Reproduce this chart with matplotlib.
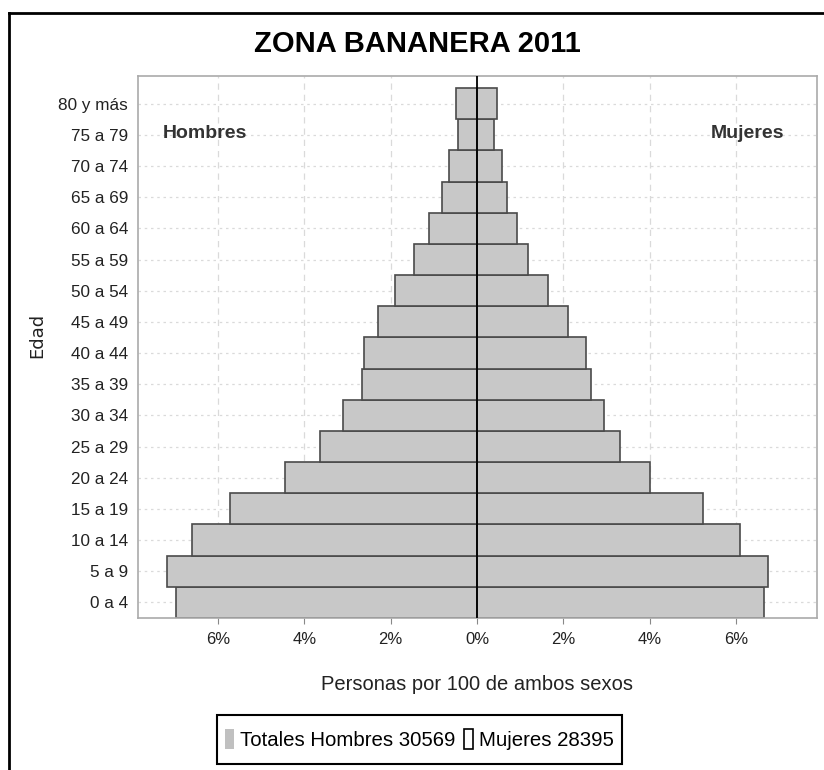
import matplotlib
matplotlib.use("Agg")
import matplotlib.pyplot as plt
from matplotlib.patches import Patch, Rectangle
from matplotlib.lines import Line2D
from matplotlib.legend_handler import HandlerPatch
from matplotlib.ticker import FuncFormatter

# Datos: porcentaje de personas por 100 de ambos sexos
edades = ["0 a 4", "5 a 9", "10 a 14", "15 a 19", "20 a 24", "25 a 29", "30 a 34",
          "35 a 39", "40 a 44", "45 a 49", "50 a 54", "55 a 59", "60 a 64",
          "65 a 69", "70 a 74", "75 a 79", "80 y más"]
hombres = [6.98, 7.17, 6.60, 5.72, 4.44, 3.63, 3.11, 2.66, 2.62, 2.29, 1.91,
           1.46, 1.12, 0.82, 0.64, 0.45, 0.49]
mujeres = [6.66, 6.74, 6.10, 5.24, 4.00, 3.32, 2.95, 2.64, 2.53, 2.12, 1.64,
           1.18, 0.92, 0.69, 0.58, 0.39, 0.47]
xticks = [-6, -4, -2, 0, 2, 4, 6]
total_hombres = 30569
total_mujeres = 28395

plt.rcParams['font.family'] = ['Liberation Sans', 'DejaVu Sans']

fig = plt.figure(figsize=(8.24, 7.7), dpi=100)
ax = fig.add_axes([0.1671, 0.1974, 0.8240, 0.7035])

y = list(range(len(edades)))
ax.barh(y, [-v for v in hombres], height=1.0, color='#c8c8c8',
        edgecolor='#4a4a4a', linewidth=1.2, zorder=2)
ax.barh(y, mujeres, height=1.0, color='#c8c8c8',
        edgecolor='#4a4a4a', linewidth=1.2, zorder=2)
ax.axvline(0, color='black', linewidth=1.3, zorder=3)

ax.set_xlim(-7.86, 7.87)
ax.set_ylim(-0.5, 16.88)
ax.set_yticks(y)
ax.set_yticklabels(edades, fontsize=12.3, color='#222222')
ax.set_xticks(xticks)
ax.xaxis.set_major_formatter(FuncFormatter(lambda v, p: f"{abs(v):.0f}%"))
ax.tick_params(axis='x', labelsize=12, colors='#222222', length=4, color='#888888', pad=6)
ax.tick_params(axis='y', length=0, pad=7)

ax.grid(axis='x', color='#dadada', linestyle=(0, (5, 4)), linewidth=0.9, zorder=0)
ax.grid(axis='y', color='#dadada', linestyle=(0, (2, 3)), linewidth=0.9, zorder=0)
ax.set_axisbelow(True)
for s in ax.spines.values():
    s.set_color('#aaaaaa')
    s.set_linewidth(1.2)

ax.set_xlabel("Personas por 100 de ambos sexos", fontsize=14.5, color='#222222', labelpad=20)

ax.text(0.037, 0.895, "Hombres", transform=ax.transAxes, ha='left', va='center',
        fontsize=14, fontweight='bold', color='#333333')
ax.text(0.952, 0.895, "Mujeres", transform=ax.transAxes, ha='right', va='center',
        fontsize=14, fontweight='bold', color='#333333')

fig.text(0.506, 0.943, "ZONA BANANERA 2011", ha='center', va='center',
         fontsize=21, fontweight='bold', color='black')
fig.text(0.045, 0.565, "Edad", rotation=90, ha='center', va='center',
         fontsize=13, color='#222222', family=['DejaVu Sans'])


def small_rect(legend, orig_handle, xdescent, ydescent, width, height, fontsize):
    # patch mas bajo que la caja de la leyenda
    return Rectangle((-xdescent, -ydescent + height * 0.2), width, height * 0.6)


handles = [Patch(facecolor='#c0c0c0', edgecolor='none'),
           Patch(facecolor='white', edgecolor='black', linewidth=1.2)]
labels = [f"Totales Hombres {total_hombres}", f"Mujeres {total_mujeres}"]
leg = fig.legend(handles, labels, loc='center', bbox_to_anchor=(0.509, 0.040),
                 ncol=2, fontsize=14.7, handlelength=0.45, handleheight=2.1,
                 handletextpad=0.3, columnspacing=0.4, borderpad=0.4,
                 fancybox=False, framealpha=1,
                 handler_map={Patch: HandlerPatch(patch_func=small_rect)})
leg.get_frame().set_edgecolor('black')
leg.get_frame().set_linewidth(1.5)

# marco de la captura original
fig.add_artist(Line2D([0.011, 1.0], [0.983, 0.983], color='black', linewidth=2,
                      transform=fig.transFigure))
fig.add_artist(Line2D([0.011, 0.011], [0.0, 0.983], color='black', linewidth=2,
                      transform=fig.transFigure))

fig.savefig("out.png", dpi=100)
